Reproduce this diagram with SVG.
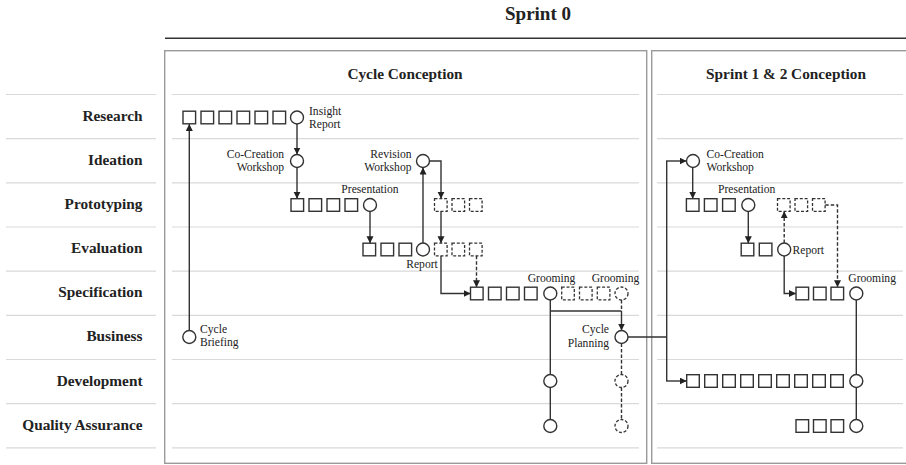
<svg xmlns="http://www.w3.org/2000/svg" width="906" height="465" viewBox="0 0 906 465">
<defs>
<style>
.lane{stroke:#d9d9d9;stroke-width:1.2;fill:none}
.panel{stroke:#9a9a9a;stroke-width:1.4;fill:none}
.sq{fill:#fff;stroke:#333;stroke-width:1.4}
.dsq{fill:#fff;stroke:#333;stroke-width:1.3;stroke-dasharray:3 1.8}
.ci{fill:#fff;stroke:#333;stroke-width:1.4}
.dci{fill:#fff;stroke:#333;stroke-width:1.3;stroke-dasharray:3 1.8}
.ln{fill:none;stroke:#333;stroke-width:1.4}
.dln{fill:none;stroke:#333;stroke-width:1.4;stroke-dasharray:3.5 2}
.arr{marker-end:url(#ah)}
.lab{font-family:"Liberation Serif","Times New Roman",serif;font-weight:bold;font-size:15.3px;fill:#222}
.t{font-family:"Liberation Serif","Times New Roman",serif;font-size:11.6px;fill:#222}
.ttl{font-family:"Liberation Serif","Times New Roman",serif;font-weight:bold;font-size:15.3px;fill:#222;text-anchor:middle}
</style>
<marker id="ah" markerUnits="userSpaceOnUse" markerWidth="8" markerHeight="8" refX="7" refY="3.5" orient="auto">
<path d="M0,0 L7,3.5 L0,7 z" fill="#222"/>
</marker>
</defs>

<g id="frame">
<text x="538" y="20" font-family="Liberation Serif, Times New Roman, serif" font-weight="bold" font-size="19px" text-anchor="middle" fill="#222">Sprint 0</text>
<line x1="165" y1="38.3" x2="906" y2="38.3" stroke="#333" stroke-width="1.6"/>
<rect class="panel" x="164.7" y="50.7" width="482" height="412.6"/>
<rect class="panel" x="651.7" y="50.7" width="262" height="412.6"/>
<text class="ttl" x="405" y="79">Cycle Conception</text>
<text class="ttl" x="786" y="79">Sprint 1 &amp; 2 Conception</text>
</g>

<g id="lanes">
<path class="lane" d="M6,94.5H156M6,138.7H156M6,182.8H156M6,227H156M6,271.2H156M6,315.3H156M6,359.5H156M6,403.6H156M6,447.8H156"/>
<path class="lane" d="M172,94.5H639M172,138.7H639M172,182.8H639M172,227H639M172,271.2H639M172,315.3H639M172,359.5H639M172,403.6H639M172,447.8H639"/>
<path class="lane" d="M657,94.5H903M657,138.7H903M657,182.8H903M657,227H903M657,271.2H903M657,315.3H903M657,359.5H903M657,403.6H903M657,447.8H903"/>
<g text-anchor="end">
<text class="lab" x="142.5" y="120.8">Research</text>
<text class="lab" x="142.5" y="164.8">Ideation</text>
<text class="lab" x="142.5" y="208.9">Prototyping</text>
<text class="lab" x="142.5" y="253">Evaluation</text>
<text class="lab" x="142.5" y="297.2">Specification</text>
<text class="lab" x="142.5" y="341.3">Business</text>
<text class="lab" x="142.5" y="385.5">Development</text>
<text class="lab" x="142.5" y="429.6">Quality Assurance</text>
</g>
</g>

<g id="connectors">
<line class="ln arr" x1="189.3" y1="330.5" x2="189.3" y2="124"/>
<line class="ln arr" x1="297" y1="124" x2="297" y2="154.5"/>
<line class="ln arr" x1="297" y1="167.5" x2="297" y2="198.7"/>
<line class="ln arr" x1="370" y1="211.5" x2="370" y2="243.2"/>
<line class="ln arr" x1="423" y1="243" x2="423" y2="167.5"/>
<path class="ln arr" d="M429.5,161H441V198.7"/>
<line class="ln arr" x1="441" y1="211.3" x2="441" y2="243.2"/>
<path class="ln arr" d="M441,255.8V293.5H470.5"/>
<line class="dln arr" x1="476.5" y1="255.8" x2="476.5" y2="287.2"/>
<line class="ln" x1="550.3" y1="300" x2="550.3" y2="419.5"/>
<path class="ln" d="M550.3,311H621.5"/>
<line class="dln" x1="621.5" y1="300" x2="621.5" y2="311"/>
<line class="ln arr" x1="621.5" y1="311" x2="621.5" y2="330.5"/>
<line class="dln" x1="621.5" y1="343.5" x2="621.5" y2="419.5"/>
<path class="ln" d="M628,337H666.7M666.7,161V381"/>
<line class="ln arr" x1="666" y1="161" x2="686.5" y2="161"/>
<line class="ln arr" x1="666" y1="381" x2="686.7" y2="381"/>
<line class="ln arr" x1="692.7" y1="167.5" x2="692.7" y2="198.7"/>
<line class="ln arr" x1="748.3" y1="211.5" x2="748.3" y2="243.2"/>
<line class="dln arr" x1="784.2" y1="243" x2="784.2" y2="211.3"/>
<path class="dln arr" d="M825.2,205H837.5V287.2"/>
<path class="ln arr" d="M784.2,256V293.5H796"/>
<line class="ln" x1="856.3" y1="300" x2="856.3" y2="419.5"/>
</g>

<g id="research">
<rect class="sq" x="183" y="111.2" width="12.6" height="12.6"/>
<rect class="sq" x="201" y="111.2" width="12.6" height="12.6"/>
<rect class="sq" x="219" y="111.2" width="12.6" height="12.6"/>
<rect class="sq" x="237" y="111.2" width="12.6" height="12.6"/>
<rect class="sq" x="255" y="111.2" width="12.6" height="12.6"/>
<rect class="sq" x="273" y="111.2" width="12.6" height="12.6"/>
</g>
<g id="insight-report">
<circle class="ci" cx="297" cy="117.5" r="6.5"/>
<text class="t" x="309" y="114.5">Insight</text>
<text class="t" x="309" y="128">Report</text>
</g>
<g id="co-creation-workshop">
<circle class="ci" cx="297" cy="161" r="6.5"/>
<text class="t" x="284" y="157.5" text-anchor="end">Co-Creation</text>
<text class="t" x="284" y="171" text-anchor="end">Workshop</text>
</g>
<g id="prototyping">
<rect class="sq" x="291" y="198.7" width="12.6" height="12.6"/>
<rect class="sq" x="309" y="198.7" width="12.6" height="12.6"/>
<rect class="sq" x="327" y="198.7" width="12.6" height="12.6"/>
<rect class="sq" x="345" y="198.7" width="12.6" height="12.6"/>
</g>
<g id="presentation">
<circle class="ci" cx="370" cy="205" r="6.5"/>
<text class="t" x="370" y="192.5" text-anchor="middle">Presentation</text>
</g>
<g id="evaluation">
<rect class="sq" x="363" y="243.2" width="12.6" height="12.6"/>
<rect class="sq" x="381" y="243.2" width="12.6" height="12.6"/>
<rect class="sq" x="399" y="243.2" width="12.6" height="12.6"/>
</g>
<g id="report">
<circle class="ci" cx="423" cy="249.5" r="6.5"/>
<text class="t" x="422" y="267.5" text-anchor="middle">Report</text>
</g>
<g id="revision-workshop">
<circle class="ci" cx="423" cy="161" r="6.5"/>
<text class="t" x="411.5" y="157.5" text-anchor="end">Revision</text>
<text class="t" x="411.5" y="171" text-anchor="end">Workshop</text>
</g>
<g id="revised-prototyping">
<rect class="dsq" x="434.5" y="198.7" width="12.6" height="12.6"/>
<rect class="dsq" x="452" y="198.7" width="12.6" height="12.6"/>
<rect class="dsq" x="469.5" y="198.7" width="12.6" height="12.6"/>
</g>
<g id="revised-evaluation">
<rect class="dsq" x="434.5" y="243.2" width="12.6" height="12.6"/>
<rect class="dsq" x="452" y="243.2" width="12.6" height="12.6"/>
<rect class="dsq" x="469.5" y="243.2" width="12.6" height="12.6"/>
</g>
<g id="specification">
<rect class="sq" x="470.5" y="287.2" width="12.6" height="12.6"/>
<rect class="sq" x="488.5" y="287.2" width="12.6" height="12.6"/>
<rect class="sq" x="506.5" y="287.2" width="12.6" height="12.6"/>
<rect class="sq" x="524.5" y="287.2" width="12.6" height="12.6"/>
</g>
<g id="grooming-1">
<circle class="ci" cx="550.3" cy="293.5" r="6.5"/>
<text class="t" x="551.5" y="281.5" text-anchor="middle">Grooming</text>
</g>
<g id="specification-2">
<rect class="dsq" x="561.7" y="287.2" width="12.6" height="12.6"/>
<rect class="dsq" x="579.5" y="287.2" width="12.6" height="12.6"/>
<rect class="dsq" x="597.3" y="287.2" width="12.6" height="12.6"/>
</g>
<g id="grooming-2">
<circle class="dci" cx="621.5" cy="293.5" r="6.5"/>
<text class="t" x="615.5" y="281.5" text-anchor="middle">Grooming</text>
</g>
<g id="cycle-briefing">
<circle class="ci" cx="189.3" cy="337" r="6.5"/>
<text class="t" x="200" y="332.5">Cycle</text>
<text class="t" x="200" y="346">Briefing</text>
</g>
<g id="cycle-planning">
<circle class="ci" cx="621.5" cy="337" r="6.5"/>
<text class="t" x="609" y="333" text-anchor="end">Cycle</text>
<text class="t" x="609" y="346.5" text-anchor="end">Planning</text>
</g>
<g id="development-1"><circle class="ci" cx="550.3" cy="381" r="6.5"/></g>
<g id="qa-1"><circle class="ci" cx="550.3" cy="426" r="6.5"/></g>
<g id="development-2"><circle class="dci" cx="621.5" cy="381" r="6.5"/></g>
<g id="qa-2"><circle class="dci" cx="621.5" cy="426" r="6.5"/></g>

<g id="s-co-creation-workshop">
<circle class="ci" cx="693" cy="161" r="6.5"/>
<text class="t" x="706.5" y="157.5">Co-Creation</text>
<text class="t" x="706.5" y="171">Workshop</text>
</g>
<g id="s-prototyping">
<rect class="sq" x="686.4" y="198.7" width="12.6" height="12.6"/>
<rect class="sq" x="704.4" y="198.7" width="12.6" height="12.6"/>
<rect class="sq" x="722.6" y="198.7" width="12.6" height="12.6"/>
</g>
<g id="s-presentation">
<circle class="ci" cx="748.3" cy="205" r="6.5"/>
<text class="t" x="746.7" y="192.5" text-anchor="middle">Presentation</text>
</g>
<g id="s-evaluation">
<rect class="sq" x="741.2" y="243.2" width="12.6" height="12.6"/>
<rect class="sq" x="759.3" y="243.2" width="12.6" height="12.6"/>
</g>
<g id="s-report">
<circle class="ci" cx="784.2" cy="249.5" r="6.5"/>
<text class="t" x="792.5" y="253.5">Report</text>
</g>
<g id="s-revised-prototyping">
<rect class="dsq" x="777.5" y="198.7" width="12.6" height="12.6"/>
<rect class="dsq" x="795" y="198.7" width="12.6" height="12.6"/>
<rect class="dsq" x="812.5" y="198.7" width="12.6" height="12.6"/>
</g>
<g id="s-specification">
<rect class="sq" x="796" y="287.2" width="12.6" height="12.6"/>
<rect class="sq" x="813.5" y="287.2" width="12.6" height="12.6"/>
<rect class="sq" x="831" y="287.2" width="12.6" height="12.6"/>
</g>
<g id="s-grooming">
<circle class="ci" cx="856.3" cy="293.5" r="6.5"/>
<text class="t" x="848.3" y="281.5">Grooming</text>
</g>
<g id="s-development">
<rect class="sq" x="686.7" y="374.7" width="12.6" height="12.6"/>
<rect class="sq" x="704.7" y="374.7" width="12.6" height="12.6"/>
<rect class="sq" x="722.7" y="374.7" width="12.6" height="12.6"/>
<rect class="sq" x="740.7" y="374.7" width="12.6" height="12.6"/>
<rect class="sq" x="758.7" y="374.7" width="12.6" height="12.6"/>
<rect class="sq" x="776.7" y="374.7" width="12.6" height="12.6"/>
<rect class="sq" x="794.7" y="374.7" width="12.6" height="12.6"/>
<rect class="sq" x="812.7" y="374.7" width="12.6" height="12.6"/>
<rect class="sq" x="830.7" y="374.7" width="12.6" height="12.6"/>
<circle class="ci" cx="856.3" cy="381" r="6.5"/>
</g>
<g id="s-qa">
<rect class="sq" x="796" y="419.7" width="12.6" height="12.6"/>
<rect class="sq" x="813.5" y="419.7" width="12.6" height="12.6"/>
<rect class="sq" x="831" y="419.7" width="12.6" height="12.6"/>
<circle class="ci" cx="856.3" cy="426" r="6.5"/>
</g>
</svg>
